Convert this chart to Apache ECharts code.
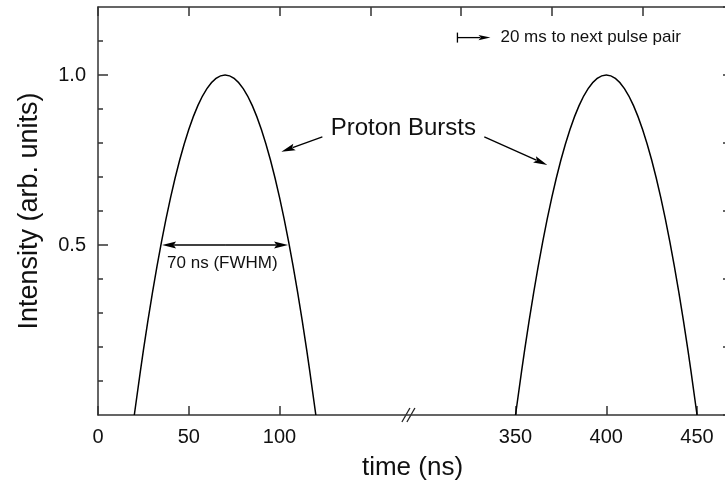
<!DOCTYPE html>
<html><head><meta charset="utf-8">
<script src="https://cdn.jsdelivr.net/npm/echarts@6/dist/echarts.min.js"></script>
<style>html,body{margin:0;padding:0;background:#fff}#c{width:725px;height:489px}</style>
</head><body><div id="c"></div>
<script>
// ---- data ----
const BREAK_OFFSET = 120; // ns cut out by the axis break (between ~171 and ~291 ns)
const burst1Time = [20,25,30,35,40,45,50,55,60,65,70,75,80,85,90,95,100,105,110,115,120];
const burst1Intensity = [0,0.19,0.36,0.51,0.64,0.75,0.84,0.91,0.96,0.99,1.0,0.99,0.96,0.91,0.84,0.75,0.64,0.51,0.36,0.19,0];
const burst2Time = [350,355,360,365,370,375,380,385,390,395,400,405,410,415,420,425,430,435,440,445,450];
const burst2Intensity = [0,0.19,0.36,0.51,0.64,0.75,0.84,0.91,0.96,0.99,1.0,0.99,0.96,0.91,0.84,0.75,0.64,0.51,0.36,0.19,0];
const xTickLabels = [0,50,100,350,400,450];
const yTickLabels = [0.5,1.0];
const yMinorTicks = [0.1,0.2,0.3,0.4,0.6,0.7,0.8,0.9,1.1];

const FONT = 'Liberation Sans, Arial, sans-serif';
const AX = '#333';
function toAxis(t){ return t >= 200 ? t - BREAK_OFFSET : t; }
function fromAxis(v){ return v >= 200 ? v + BREAK_OFFSET : v; }
const xTickPos = xTickLabels.map(toAxis);

const chart = echarts.init(document.getElementById('c'), null, {renderer:'canvas'});
const lineAxis = {show:true, onZero:false, lineStyle:{color:AX, width:1.5}};
const option = {
  animation:false,
  backgroundColor:'#fff',
  grid:{left:98, top:7, width:629, height:408, containLabel:false, outerBoundsMode:'none'},
  xAxis:[
    {type:'value', position:'bottom', min:0, max:346.5,
     axisLine:lineAxis, splitLine:{show:false},
     axisTick:{show:true, inside:true, length:9, customValues:xTickPos, lineStyle:{color:AX, width:1.5}},
     axisLabel:{show:true, customValues:xTickPos, formatter:v=>String(Math.round(fromAxis(v))), fontSize:20, margin:12, color:'#111', fontFamily:FONT},
     name:'time (ns)', nameLocation:'middle', nameGap:40,
     nameTextStyle:{fontSize:26, color:'#111', fontFamily:FONT}},
    {type:'value', position:'top', min:0, max:346.5, interval:50,
     axisLine:lineAxis, splitLine:{show:false},
     axisTick:{show:true, inside:true, length:9, lineStyle:{color:AX, width:1.5}},
     axisLabel:{show:false}}
  ],
  yAxis:[
    {type:'value', position:'left', min:0, max:1.2,
     axisLine:lineAxis, splitLine:{show:false},
     axisTick:{show:true, inside:true, length:5, customValues:yMinorTicks, lineStyle:{color:AX, width:1.5}},
     axisLabel:{show:false}},
    {type:'value', position:'left', min:0, max:1.2,
     axisLine:{show:false, onZero:false}, splitLine:{show:false},
     axisTick:{show:true, inside:true, length:10, customValues:yTickLabels, lineStyle:{color:AX, width:1.5}},
     axisLabel:{show:true, customValues:yTickLabels, formatter:v=>v.toFixed(1), fontSize:20, margin:12, color:'#111', fontFamily:FONT},
     name:'Intensity (arb. units)', nameLocation:'middle', nameGap:55,
     nameTextStyle:{fontSize:27, color:'#111', fontFamily:FONT}},
    {type:'value', position:'right', min:0, max:1.2, interval:0.2,
     axisLine:lineAxis, splitLine:{show:false},
     axisTick:{show:true, inside:true, length:4, lineStyle:{color:AX, width:1.5}},
     axisLabel:{show:false}}
  ],
  series:[
    {type:'line', xAxisIndex:0, yAxisIndex:0, smooth:0.4, showSymbol:false, silent:true,
     lineStyle:{color:'#000', width:1.5},
     data: burst1Time.map((t,i)=>[toAxis(t), burst1Intensity[i]])},
    {type:'line', xAxisIndex:0, yAxisIndex:0, smooth:0.4, showSymbol:false, silent:true,
     lineStyle:{color:'#000', width:1.5},
     data: burst2Time.map((t,i)=>[toAxis(t), burst2Intensity[i]])}
  ]
};
chart.setOption(option);

// ---- annotations (positions via the chart's own scales) ----
function P(x,y){ return chart.convertToPixel({gridIndex:0}, [x,y]); }
function arrow(from, to, opts){
  opts = opts || {};
  const L = opts.len || 14, W = opts.w || 3.5;
  const dx = to[0]-from[0], dy = to[1]-from[1];
  const d = Math.hypot(dx,dy), ux = dx/d, uy = dy/d, nx = -uy, ny = ux;
  const bx = to[0]-L*ux, by = to[1]-L*uy;
  return [
    {type:'line', shape:{x1:from[0], y1:from[1], x2:bx+2*ux, y2:by+2*uy}, style:{stroke:'#000', lineWidth:1.3}, silent:true},
    {type:'polygon', shape:{points:[[to[0],to[1]],[bx+W*nx,by+W*ny],[bx+2.5*ux,by+2.5*uy],[bx-W*nx,by-W*ny]]}, style:{fill:'#000'}, silent:true}
  ];
}
const g = [];
// Proton Bursts label + arrows
const pb = P(168.2, 0.844);
g.push({type:'text', x:pb[0], y:pb[1], style:{text:'Proton Bursts', fontSize:24, fontFamily:FONT, fill:'#111', align:'center', verticalAlign:'middle'}, silent:true});
g.push(...arrow(P(123.6,0.818), P(101.0,0.774)));
g.push(...arrow(P(212.8,0.818), P(247.5,0.735)));
// FWHM double arrow
const a1 = P(35.3,0.5), a2 = P(104.7,0.5), mid = [(a1[0]+a2[0])/2, a1[1]];
g.push(...arrow(mid, a2));
g.push(...arrow(mid, a1));
const ft = P(68.5, 0.447);
g.push({type:'text', x:ft[0], y:ft[1], style:{text:'70 ns (FWHM)', fontSize:17, fontFamily:FONT, fill:'#111', align:'center', verticalAlign:'middle'}, silent:true});
// 20 ms marker
const m0 = P(198, 1.11), m1 = P(216.2, 1.11), mt = P(221.7, 1.11);
g.push({type:'line', shape:{x1:m0[0], y1:m0[1]-5, x2:m0[0], y2:m0[1]+5}, style:{stroke:'#000', lineWidth:1.3}, silent:true});
g.push(...arrow(m0, m1, {len:12, w:2.6}));
g.push({type:'text', x:mt[0], y:mt[1], style:{text:'20 ms to next pulse pair', fontSize:17, fontFamily:FONT, fill:'#111', align:'left', verticalAlign:'middle'}, silent:true});
// axis break mark
const br = P(171, 0);
[-2.5, 2.5].forEach(o=>{
  g.push({type:'line', shape:{x1:br[0]+o-4, y1:br[1]+7, x2:br[0]+o+4, y2:br[1]-7}, style:{stroke:'#222', lineWidth:1.3}, silent:true});
});
chart.setOption({graphic:g});
</script>
</body></html>
